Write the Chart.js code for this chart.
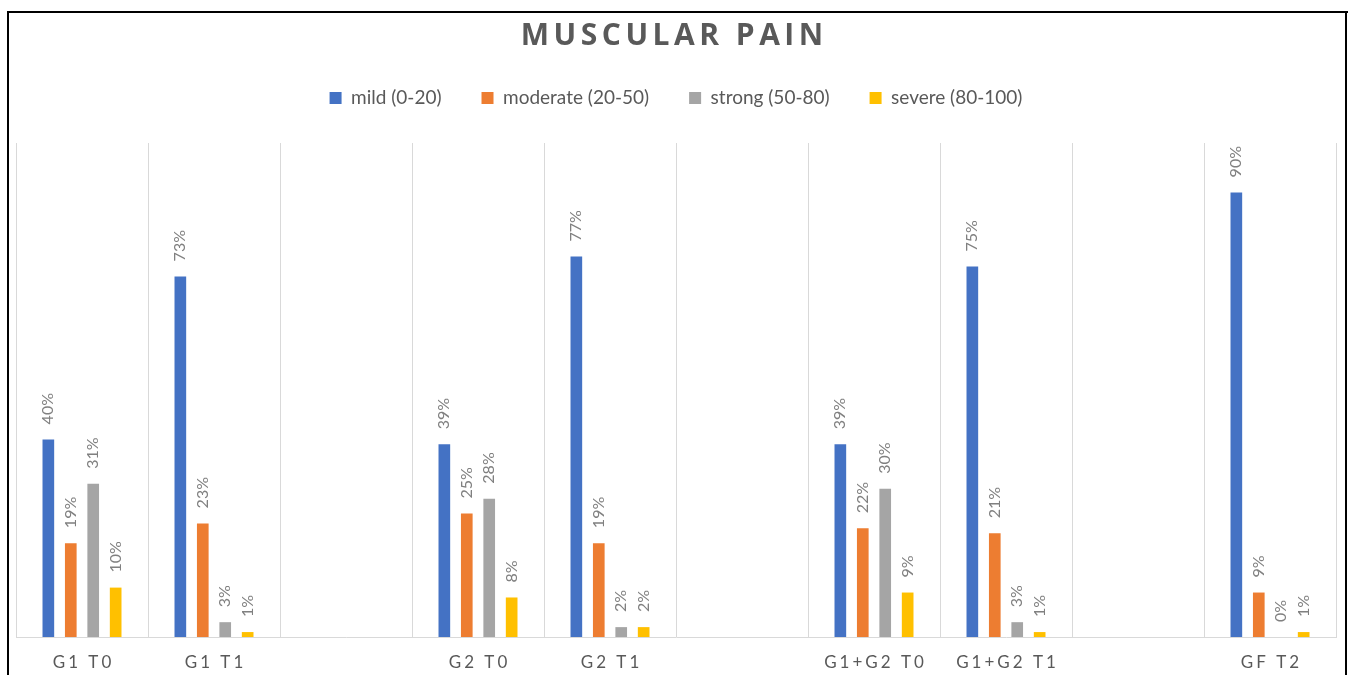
<!DOCTYPE html>
<html>
<head>
<meta charset="utf-8">
<script src="https://cdn.jsdelivr.net/npm/chart.js@4.4.1/dist/chart.umd.min.js"></script>
<style>
  html, body { margin: 0; padding: 0; background: #fff; overflow: hidden; }
  #wrap { width: 1348px; height: 675px; position: relative; }
</style>
</head>
<body>
<div id="wrap"><canvas id="c" width="1348" height="675"></canvas></div>
<script>
// Pain intensity distribution per group and time point
const chartTitle = 'MUSCULAR PAIN';
const categories = ['G1 T0', 'G1 T1', '', 'G2 T0', 'G2 T1', '', 'G1+G2 T0', 'G1+G2 T1', '', 'GF T2'];
const seriesNames = ['mild (0-20)', 'moderate (20-50)', 'strong (50-80)', 'severe (80-100)'];
const mild     = [40, 73, null, 39, 77, null, 39, 75, null, 90];
const moderate = [19, 23, null, 25, 19, null, 22, 21, null, 9];
const strong   = [31,  3, null, 28,  2, null, 30,  3, null, 0];
const severe   = [10,  1, null,  8,  2, null,  9,  1, null, 1];
const seriesColors = ['#4472C4', '#ED7D31', '#A5A5A5', '#FFC000'];

const FONT = 'Lato, "Open Sans", sans-serif';
const TITLE_FONT = '"Open Sans", Lato, sans-serif';
const TEXT_GREY = '#595959';
const LABEL_GREY = '#808080';

// Legend block height (from its top edge down to the plot area)
const LEGEND_BLOCK_HEIGHT = 94.5;

// Give the legend a fixed height so the plot starts below it with some air
const legendHeightPlugin = {
  id: 'legendHeight',
  beforeInit(chart) {
    const legend = chart.legend;
    if (!legend) return;
    const origFit = legend.fit;
    legend.fit = function () {
      origFit.call(this);
      this.height = LEGEND_BLOCK_HEIGHT;
    };
  }
};

// Outer frame around the whole figure
const framePlugin = {
  id: 'frame',
  afterDraw(chart) {
    const ctx = chart.ctx;
    ctx.save();
    ctx.fillStyle = '#000';
    ctx.fillRect(7, 11, 1341, 2);
    ctx.fillRect(7, 11, 2, 664);
    ctx.fillRect(1345, 11, 2, 664);
    ctx.restore();
  }
};

// Letter-spaced title
const titlePlugin = {
  id: 'spacedTitle',
  afterDraw(chart) {
    const ctx = chart.ctx;
    const ls = 4.5;
    ctx.save();
    ctx.font = 'bold 30px ' + TITLE_FONT;
    ctx.letterSpacing = ls + 'px';
    ctx.fillStyle = TEXT_GREY;
    ctx.textAlign = 'left';
    ctx.textBaseline = 'alphabetic';
    const w = ctx.measureText(chartTitle).width - ls;
    ctx.fillText(chartTitle, 672 - w / 2, 45);
    ctx.restore();
  }
};

// Letter-spaced category labels under the axis
const categoryLabelPlugin = {
  id: 'categoryLabels',
  afterDraw(chart) {
    const ctx = chart.ctx;
    const xScale = chart.scales.x;
    const ls = 3;
    ctx.save();
    ctx.font = '17px ' + FONT;
    ctx.letterSpacing = ls + 'px';
    ctx.fillStyle = TEXT_GREY;
    ctx.textAlign = 'left';
    ctx.textBaseline = 'middle';
    categories.forEach((lab, i) => {
      if (!lab) return;
      const w = ctx.measureText(lab).width - ls;
      ctx.fillText(lab, xScale.getPixelForValue(i) - w / 2, 663);
    });
    ctx.restore();
  }
};

// Vertical value labels above each bar
const valueLabelPlugin = {
  id: 'valueLabels',
  afterDatasetsDraw(chart) {
    const ctx = chart.ctx;
    ctx.save();
    ctx.font = '16px ' + FONT;
    ctx.fillStyle = LABEL_GREY;
    ctx.textAlign = 'left';
    ctx.textBaseline = 'middle';
    chart.data.datasets.forEach((ds, di) => {
      const meta = chart.getDatasetMeta(di);
      meta.data.forEach((bar, i) => {
        const v = ds.data[i];
        if (v === null || v === undefined) return;
        ctx.save();
        ctx.translate(bar.x, bar.y - 15);
        ctx.rotate(-Math.PI / 2);
        ctx.fillText(v + '%', 0, 0);
        ctx.restore();
      });
    });
    ctx.restore();
  }
};

const seriesData = [mild, moderate, strong, severe];

new Chart(document.getElementById('c'), {
  type: 'bar',
  data: {
    labels: categories,
    datasets: seriesNames.map((name, k) => ({
      label: name,
      data: seriesData[k],
      backgroundColor: seriesColors[k],
      borderWidth: 0,
      categoryPercentage: 0.68,
      barPercentage: 0.52
    }))
  },
  options: {
    responsive: false,
    animation: false,
    devicePixelRatio: 1,
    layout: { padding: { top: 48.5, left: 16, right: 12, bottom: 38 } },
    plugins: {
      title: { display: false },
      tooltip: { enabled: false },
      legend: {
        display: true,
        position: 'top',
        labels: {
          boxWidth: 12,
          boxHeight: 12,
          padding: 40,
          color: TEXT_GREY,
          font: { family: FONT, size: 19 }
        }
      }
    },
    scales: {
      x: {
        offset: true,
        grid: { display: true, offset: true, color: '#D9D9D9', lineWidth: 1, drawTicks: false },
        border: { display: true, color: '#D9D9D9', width: 1 },
        ticks: { display: false }
      },
      y: {
        display: false,
        min: 0,
        max: 100
      }
    }
  },
  plugins: [legendHeightPlugin, valueLabelPlugin, categoryLabelPlugin, titlePlugin, framePlugin]
});
</script>
</body>
</html>
